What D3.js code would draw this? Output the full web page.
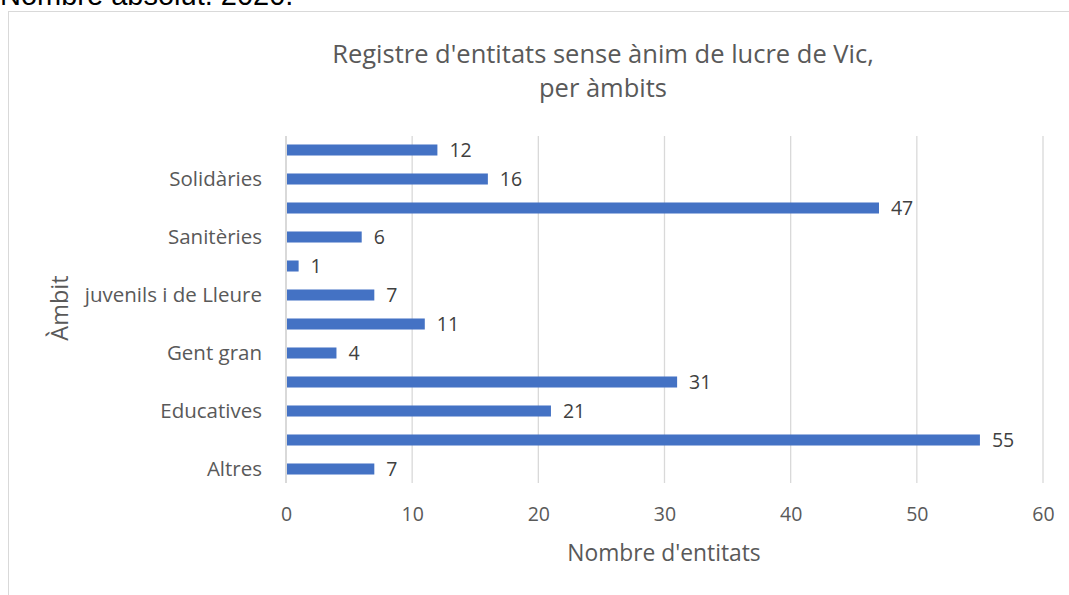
<!DOCTYPE html>
<meta charset="utf-8">
<style>
body { margin: 0; background: #fff; }
text { font-family: "Open Sans", sans-serif; }
</style>
<body>
<script src="https://cdnjs.cloudflare.com/ajax/libs/d3/7.8.5/d3.min.js"></script>
<script>
// categories bottom to top; only every other one is shown on the axis
var categories = ["Altres", "Culturals", "Educatives", "Esportives", "Gent gran", "Infantils",
  "juvenils i de Lleure", "Polítiques", "Sanitèries", "Socials", "Solidàries", "Veïnals"];
var values = [7, 55, 21, 31, 4, 11, 7, 1, 6, 47, 16, 12];
var shownLabels = ["Altres", "Educatives", "Gent gran", "juvenils i de Lleure", "Sanitèries", "Solidàries"];
var xTicks = [0, 10, 20, 30, 40, 50, 60];

var width = 1069, height = 595;
var svg = d3.select("body").append("svg")
    .attr("width", width)
    .attr("height", height);

// subtitle cut off at the top
svg.append("text")
    .attr("x", 0).attr("y", 5)
    .style("font-family", "'Liberation Sans', Arial, sans-serif")
    .style("font-size", "29px")
    .attr("fill", "#000")
    .text("Nombre absolut. 2020.");

// chart border
svg.append("rect")
    .attr("x", 8.5).attr("y", 11.5)
    .attr("width", 1100).attr("height", 700)
    .attr("fill", "#fff")
    .attr("stroke", "#d9d9d9");

var x = d3.scaleLinear().domain([0, 60]).range([286, 1043]);
var y = d3.scaleBand().domain(categories).range([483.5, 135.5]).paddingInner(0.62).paddingOuter(0.31);

// gridlines
svg.append("g").selectAll("line")
    .data(xTicks)
    .enter().append("line")
    .attr("x1", d => x(d)).attr("x2", d => x(d))
    .attr("y1", 136).attr("y2", 483)
    .attr("stroke", "#d9d9d9")
    .attr("stroke-width", d => d === 0 ? 2 : 1.3);

// bars
svg.append("g").selectAll("rect")
    .data(values)
    .enter().append("rect")
    .attr("x", x(0) + 1)
    .attr("y", (d, i) => y(categories[i]))
    .attr("width", d => x(d) - x(0) - 1)
    .attr("height", y.bandwidth())
    .attr("fill", "#4472c4");

// value labels
svg.append("g").selectAll("text")
    .data(values)
    .enter().append("text")
    .attr("x", d => x(d) + 12)
    .attr("y", (d, i) => y(categories[i]) + y.bandwidth() / 2)
    .attr("dy", "0.36em")
    .attr("fill", "#404040")
    .style("font-size", "19.5px")
    .text(d => d);

// y axis labels
var yAxis = d3.axisLeft(y).tickSize(0).tickPadding(24)
    .tickFormat(d => shownLabels.indexOf(d) >= 0 ? d : "");
var ya = svg.append("g").attr("transform", "translate(286,0)").call(yAxis);
ya.select(".domain").remove();
ya.selectAll("text").attr("fill", "#595959").style("font-size", "20.5px")
    .style("font-family", "'Open Sans', sans-serif");

// x axis labels
var xAxis = d3.axisBottom(x).tickValues(xTicks).tickSize(0).tickPadding(24);
var xa = svg.append("g").attr("transform", "translate(0,483)").call(xAxis);
xa.select(".domain").remove();
xa.selectAll("text").attr("fill", "#595959").style("font-size", "19.5px")
    .style("font-family", "'Open Sans', sans-serif");

// titles
svg.append("text")
    .attr("x", 603).attr("y", 63)
    .attr("text-anchor", "middle")
    .attr("fill", "#595959")
    .style("font-size", "25.5px")
    .text("Registre d'entitats sense ànim de lucre de Vic,");
svg.append("text")
    .attr("x", 603).attr("y", 97)
    .attr("text-anchor", "middle")
    .attr("fill", "#595959")
    .style("font-size", "25.5px")
    .text("per àmbits");

svg.append("text")
    .attr("x", 664).attr("y", 561)
    .attr("text-anchor", "middle")
    .attr("fill", "#595959")
    .style("font-size", "22.8px")
    .text("Nombre d'entitats");

svg.append("text")
    .attr("transform", "translate(68,308) rotate(-90)")
    .attr("text-anchor", "middle")
    .attr("fill", "#595959")
    .style("font-size", "23.5px")
    .text("Àmbit");
</script>
</body>
